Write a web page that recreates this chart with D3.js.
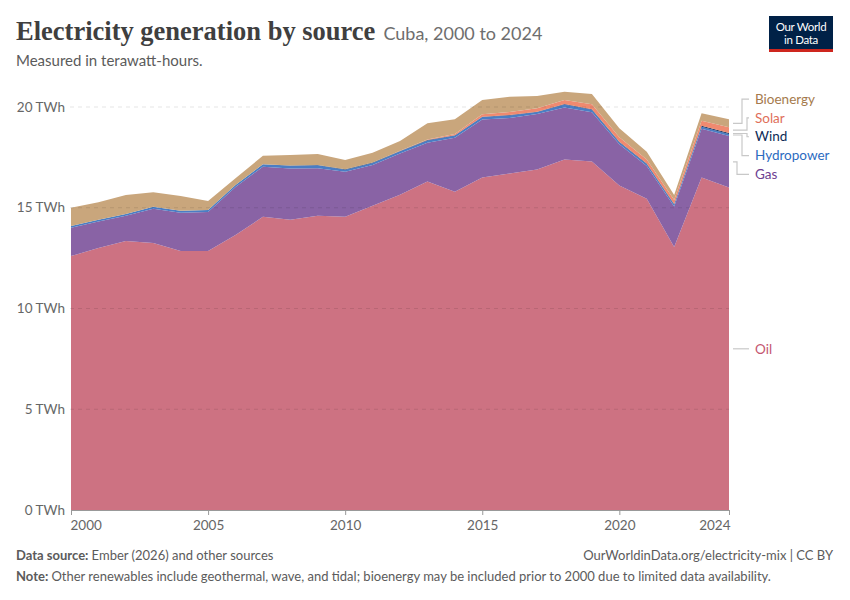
<!DOCTYPE html>
<html>
<head>
<meta charset="utf-8">
<script src="https://cdn.jsdelivr.net/npm/d3@7"></script>
<style>
  body { margin: 0; background: #fff; }
  text { font-family: Lato, "Noto Sans", sans-serif; }
</style>
</head>
<body>
<svg width="850" height="600"></svg>
<script>
// values in TWh
var years = [2000, 2001, 2002, 2003, 2004, 2005, 2006, 2007, 2008, 2009, 2010, 2011, 2012,
  2013, 2014, 2015, 2016, 2017, 2018, 2019, 2020, 2021, 2022, 2023, 2024];
var oil = [12.6, 13.0, 13.35, 13.25, 12.85, 12.85, 13.65, 14.55, 14.4, 14.6, 14.55, 15.1, 15.65,
  16.3, 15.8, 16.5, 16.7, 16.9, 17.4, 17.3, 16.1, 15.45, 13.05, 16.5, 16.0];
var gas = [1.41, 1.32, 1.25, 1.7, 1.9, 1.94, 2.38, 2.49, 2.55, 2.36, 2.24, 2.02, 2.04,
  1.92, 2.68, 2.88, 2.75, 2.75, 2.58, 2.44, 2.05, 1.62, 2.01, 2.42, 2.56];
var hydro = [0.09, 0.08, 0.09, 0.1, 0.1, 0.1, 0.1, 0.12, 0.14, 0.15, 0.1, 0.1, 0.11,
  0.12, 0.1, 0.12, 0.13, 0.1, 0.14, 0.12, 0.1, 0.1, 0.1, 0.1, 0.1];
var wind = [0, 0, 0, 0, 0, 0, 0, 0, 0.01, 0.01, 0.02, 0.02, 0.02,
  0.02, 0.02, 0.02, 0.02, 0.02, 0.03, 0.03, 0.03, 0.03, 0.03, 0.05, 0.05];
var solar = [0, 0, 0, 0, 0, 0, 0, 0, 0, 0, 0, 0, 0.01,
  0.03, 0.06, 0.12, 0.15, 0.17, 0.2, 0.25, 0.22, 0.2, 0.19, 0.25, 0.28];
var bio = [0.9, 0.87, 0.94, 0.72, 0.73, 0.44, 0.34, 0.42, 0.52, 0.55, 0.46, 0.49, 0.48,
  0.8, 0.73, 0.71, 0.76, 0.61, 0.41, 0.51, 0.44, 0.38, 0.25, 0.37, 0.4];

var sources = ["Oil", "Gas", "Hydropower", "Wind", "Solar", "Bioenergy"];
var seriesValues = [oil, gas, hydro, wind, solar, bio];
var yTicks = [0, 5, 10, 15, 20];
var xTicks = [2000, 2005, 2010, 2015, 2020, 2024];

var areaColor = {
  Oil: "#cd7282", Gas: "#8963a5", Hydropower: "#4a7dc4",
  Wind: "#14315e", Solar: "#ef8a70", Bioenergy: "#c9a67c"
};
var labelColor = {
  Oil: "#c4566f", Gas: "#6d3e91", Hydropower: "#2c6bbf",
  Wind: "#0d2b56", Solar: "#e0705a", Bioenergy: "#a57a4c"
};

var svg = d3.select("svg"),
  margin = { top: 107, right: 121, bottom: 90, left: 71 },
  width = 850,
  height = 600;

var table = years.map(function(yr, i) {
  var row = { year: yr };
  sources.forEach(function(s, k) { row[s] = seriesValues[k][i]; });
  return row;
});

var x = d3.scaleLinear()
  .domain([2000, 2024])
  .range([margin.left, width - margin.right]);

var y = d3.scaleLinear()
  .domain([0, 20])
  .range([height - margin.bottom, margin.top]);

var stack = d3.stack().keys(sources)(table);

// header
var title = svg.append("text")
  .attr("x", 16)
  .attr("y", 40)
  .attr("fill", "#3f3f3f")
  .style("font-family", "'Liberation Serif', 'DejaVu Serif', serif")
  .style("font-size", "26.5px")
  .style("font-weight", "700");
title.append("tspan").text("Electricity generation by source");
title.append("tspan")
  .attr("dx", 8)
  .attr("fill", "#6e6e6e")
  .style("font-family", "Lato, sans-serif")
  .style("font-size", "18px")
  .style("font-weight", "400")
  .text("Cuba, 2000 to 2024");

svg.append("text")
  .attr("x", 16)
  .attr("y", 66)
  .attr("fill", "#5b5b5b")
  .style("font-size", "15px")
  .text("Measured in terawatt-hours.");

// logo
var logo = svg.append("g").attr("transform", "translate(769,16)");
logo.append("rect").attr("width", 64).attr("height", 36).attr("fill", "#002147");
logo.append("rect").attr("y", 33).attr("width", 64).attr("height", 3).attr("fill", "#ce261e");
logo.append("text").attr("x", 32).attr("y", 15).attr("text-anchor", "middle")
  .attr("fill", "#fff").style("font-size", "11.5px").style("letter-spacing", "-0.3px").text("Our World");
logo.append("text").attr("x", 32).attr("y", 28).attr("text-anchor", "middle")
  .attr("fill", "#fff").style("font-size", "11.5px").style("letter-spacing", "-0.3px").text("in Data");

// areas
var area = d3.area()
  .x(function(d) { return x(d.data.year); })
  .y0(function(d) { return y(d[0]); })
  .y1(function(d) { return y(d[1]); });

svg.append("g")
  .selectAll("path")
  .data(stack)
  .enter().append("path")
  .attr("fill", function(d) { return areaColor[d.key]; })
  .attr("d", area);

// grid (drawn on top, faint)
svg.append("g")
  .selectAll("line")
  .data(yTicks.slice(1))
  .enter().append("line")
  .attr("x1", 70)
  .attr("x2", x(2024))
  .attr("y1", function(d) { return y(d); })
  .attr("y2", function(d) { return y(d); })
  .attr("stroke", "#000")
  .attr("stroke-opacity", 0.1)
  .attr("stroke-dasharray", "4,4");

// y axis labels
svg.append("g")
  .selectAll("text")
  .data(yTicks)
  .enter().append("text")
  .attr("x", 65)
  .attr("y", function(d) { return y(d); })
  .attr("dy", "0.35em")
  .attr("text-anchor", "end")
  .attr("fill", "#666")
  .style("font-size", "13.5px")
  .text(function(d) { return d + " TWh"; });

// x axis
var xAxis = svg.append("g")
  .attr("transform", "translate(0," + y(0) + ")")
  .call(d3.axisBottom(x).tickValues(xTicks).tickFormat(d3.format("d")).tickSize(5).tickPadding(5));
xAxis.select(".domain").attr("stroke", "#999");
xAxis.selectAll(".tick line").attr("stroke", "#999");
xAxis.selectAll(".tick text")
  .attr("fill", "#666")
  .style("font-family", "Lato, sans-serif")
  .style("font-size", "13.5px")
  .attr("text-anchor", function(d) { return d === 2000 ? "start" : d === 2024 ? "end" : "middle"; })
  .attr("dx", function(d) { return d === 2000 ? -1 : d === 2024 ? 1 : 0; });

// end labels
var labels = stack.map(function(s) {
  var p = s[s.length - 1];
  return { key: s.key, target: y((p[0] + p[1]) / 2) };
});
labels.sort(function(a, b) { return a.target - b.target; });

// group overlapping labels and centre each group on its targets
var gap = 18.8;
var groups = labels.map(function(l) { return [l]; });
var merged = true;
while (merged) {
  merged = false;
  groups.forEach(function(g) {
    var c = d3.mean(g, function(l) { return l.target; });
    g.forEach(function(l, i) { l.y = c + (i - (g.length - 1) / 2) * gap; });
  });
  for (var i = 0; i < groups.length - 1; i++) {
    var a = groups[i], b = groups[i + 1];
    if (b[0].y - a[a.length - 1].y < gap) {
      groups.splice(i, 2, a.concat(b));
      merged = true;
      break;
    }
  }
}

var lx0 = x(2024) + 4, lx1 = 751;
var up = labels.filter(function(l) { return l.y < l.target - 1; }).reverse();
var down = labels.filter(function(l) { return l.y > l.target + 1; });
up.forEach(function(l, i) { l.elbow = 747 - i * 5; });
down.forEach(function(l, i) { l.elbow = 747 - i * 5; });

var lab = svg.append("g");
lab.selectAll("path")
  .data(labels)
  .enter().append("path")
  .attr("fill", "none")
  .attr("stroke", "#c8c8c8")
  .attr("stroke-width", 1.2)
  .attr("d", function(l) {
    if (l.elbow === undefined) return "M" + lx0 + "," + l.y + "H" + (lx1 - 2);
    return "M" + lx0 + "," + l.target + "H" + l.elbow + "V" + l.y + "H" + (lx1 - 2);
  });

lab.selectAll("text")
  .data(labels)
  .enter().append("text")
  .attr("x", lx1 + 4)
  .attr("y", function(l) { return l.y; })
  .attr("dy", "0.35em")
  .attr("fill", function(l) { return labelColor[l.key]; })
  .style("font-size", "13.5px")
  .text(function(l) { return l.key; });

// footer
var src = svg.append("text")
  .attr("x", 16)
  .attr("y", 560)
  .attr("fill", "#5b5b5b")
  .style("font-size", "13px");
src.append("tspan").style("font-weight", "700").text("Data source: ");
src.append("tspan").text("Ember (2026) and other sources");

svg.append("text")
  .attr("x", 833)
  .attr("y", 560)
  .attr("text-anchor", "end")
  .attr("fill", "#5b5b5b")
  .style("font-size", "13px")
  .text("OurWorldinData.org/electricity-mix | CC BY");

var note = svg.append("text")
  .attr("x", 16)
  .attr("y", 581)
  .attr("fill", "#5b5b5b")
  .style("font-size", "13px");
note.append("tspan").style("font-weight", "700").text("Note: ");
note.append("tspan").text("Other renewables include geothermal, wave, and tidal; bioenergy may be included prior to 2000 due to limited data availability.");
</script>
</body>
</html>
